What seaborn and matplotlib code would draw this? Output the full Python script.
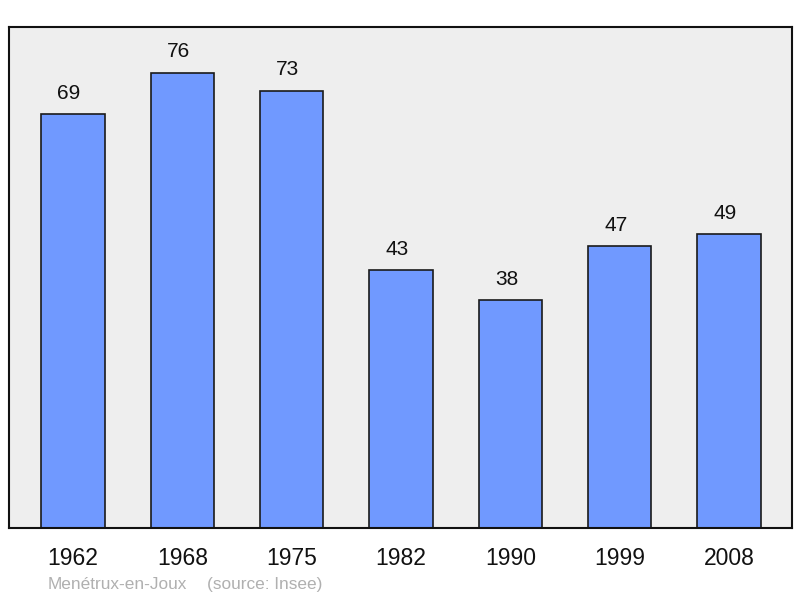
import matplotlib
matplotlib.use("Agg")
import matplotlib.pyplot as plt
import seaborn as sns
import pandas as pd

years = ["1962", "1968", "1975", "1982", "1990", "1999", "2008"]
population = [69, 76, 73, 43, 38, 47, 49]
commune = "Menétrux-en-Joux"
source = "(source: Insee)"

df = pd.DataFrame({"year": years, "pop": population})

sns.set_theme(style="white")
plt.rcParams["font.family"] = ["Liberation Sans", "DejaVu Sans"]

fig = plt.figure(figsize=(8, 5.98), dpi=100)
ax = fig.add_axes([9 / 800, 1 - 528 / 598, 783 / 800, 501 / 598])
ax.set_facecolor("#eeeeee")

sns.barplot(data=df, x="year", y="pop", ax=ax, color="#7099ff",
            saturation=1, width=0.58, edgecolor="#1a1a1a", linewidth=1.2)

# value labels sit a bit left of the bar centre, like the original
for i, v in enumerate(population):
    ax.annotate(str(v), (i, v), xytext=(-2.8, 8), textcoords="offset points",
                ha="center", va="bottom", fontsize=15, color="#111111")

ax.set_xlim(-0.585, 6.575)
ax.set_ylim(0, 83.6)
ax.set_yticks([])
ax.set_xlabel("")
ax.set_ylabel("")
ax.tick_params(axis="x", length=0, pad=14, labelsize=16.5, colors="#111111")
for s in ax.spines.values():
    s.set_visible(True)
    s.set_color("#111111")
    s.set_linewidth(1.5)

fig.text(48 / 800, 1 - 589 / 598, commune, fontsize=12.4,
         color="#b0b0b0", ha="left", va="baseline")
fig.text(207 / 800, 1 - 589 / 598, source, fontsize=12.4,
         color="#b0b0b0", ha="left", va="baseline")

fig.savefig("out.png", dpi=100)
